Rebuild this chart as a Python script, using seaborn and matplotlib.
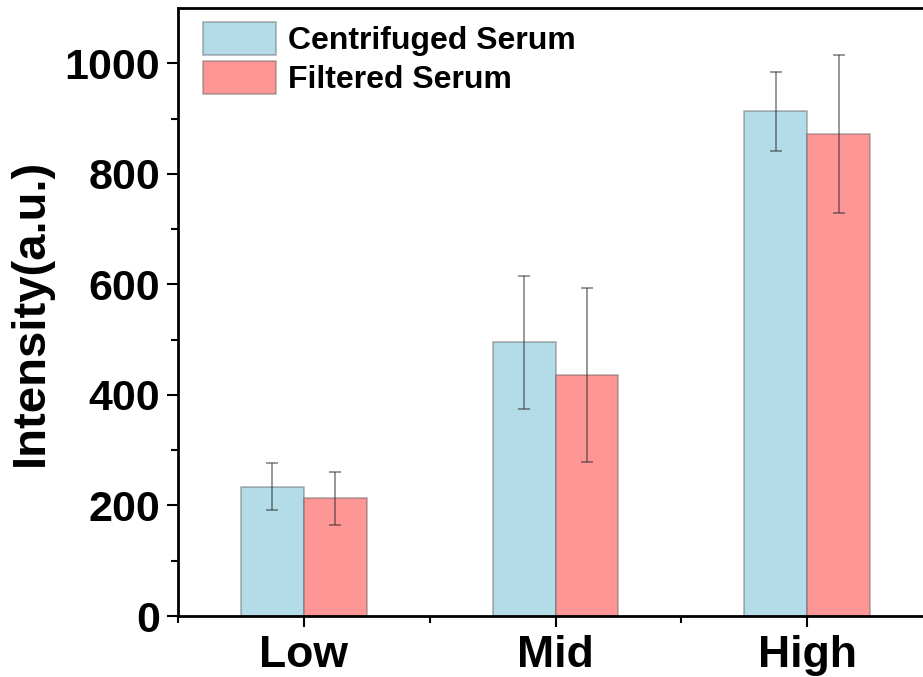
import matplotlib
matplotlib.use("Agg")
import matplotlib.pyplot as plt
import seaborn as sns
import pandas as pd
import numpy as np
from matplotlib.ticker import FixedLocator

categories = ["Low", "Mid", "High"]
series = ["Centrifuged Serum", "Filtered Serum"]
centrifuged = [234, 495, 913]
centrifuged_err = [43, 120, 71]
filtered = [213, 436, 872]
filtered_err = [48, 157, 143]

colors = ["#B3DBE8", "#FF9696"]

df = pd.DataFrame({
    "Level": categories * 2,
    "Series": [series[0]] * 3 + [series[1]] * 3,
    "Intensity": centrifuged + filtered,
    "Err": centrifuged_err + filtered_err,
})

sns.set_theme(style="ticks")
plt.rcParams["font.family"] = ["Liberation Sans", "DejaVu Sans"]
plt.rcParams["font.weight"] = "bold"
plt.rcParams["text.color"] = "black"
plt.rcParams["axes.labelcolor"] = "black"
plt.rcParams["xtick.color"] = "black"
plt.rcParams["ytick.color"] = "black"
plt.rcParams["xtick.labelcolor"] = "black"
plt.rcParams["ytick.labelcolor"] = "black"

fig = plt.figure(figsize=(9.23, 6.77), dpi=100)
W, H = 923, 677
ax = fig.add_axes([178 / W, 61 / H, 755 / W, 608 / H])

sns.barplot(data=df, x="Level", y="Intensity", hue="Series", order=categories,
            hue_order=series, palette=colors, width=0.5, gap=0, errorbar=None,
            edgecolor=(0.35, 0.35, 0.35, 0.45), linewidth=1.2, ax=ax, saturation=1)

# error bars at bar centers
for cont, s in zip(ax.containers, series):
    sub = df[df["Series"] == s].set_index("Level").loc[categories]
    xs = [p.get_x() + p.get_width() / 2 for p in cont.patches]
    ax.errorbar(xs, sub["Intensity"].values, yerr=sub["Err"].values, fmt="none",
                ecolor=(0.15, 0.15, 0.15, 0.6), elinewidth=1.1, capsize=4.5,
                capthick=1.1, zorder=5)

ax.set_xlim(-0.5, 2.5)
ax.set_ylim(0, 1100)
ax.yaxis.set_major_locator(FixedLocator([0, 200, 400, 600, 800, 1000]))
ax.yaxis.set_minor_locator(FixedLocator([100, 300, 500, 700, 900]))
ax.xaxis.set_minor_locator(FixedLocator([-0.5, 0.5, 1.5, 2.5]))

ax.set_xlabel("")
ax.set_ylabel("Intensity(a.u.)", fontsize=34, fontweight="bold", labelpad=8,
              color="black")
ax.tick_params(axis="both", which="major", direction="out", length=8, width=1.5,
               labelsize=31, pad=5, color="black", labelcolor="black")
ax.tick_params(axis="both", which="minor", direction="out", length=5, width=1.5,
               color="black")
ax.tick_params(axis="x", labelsize=32, pad=6)
for lab in ax.get_xticklabels() + ax.get_yticklabels():
    lab.set_fontweight("bold")

for sp in ax.spines.values():
    sp.set_visible(True)
    sp.set_linewidth(2)
    sp.set_color("black")

handles, labels = ax.get_legend_handles_labels()
leg = ax.legend(handles, labels, loc="upper left",
                bbox_to_anchor=(25 / 755, 1 - 14 / 608),
                frameon=False, borderaxespad=0, borderpad=0,
                prop={"weight": "bold", "size": 23},
                handlelength=2.3, handleheight=1.2, handletextpad=0.35,
                labelspacing=0.15)
for t in leg.get_texts():
    t.set_color("black")

fig.savefig("out.png", dpi=100)
